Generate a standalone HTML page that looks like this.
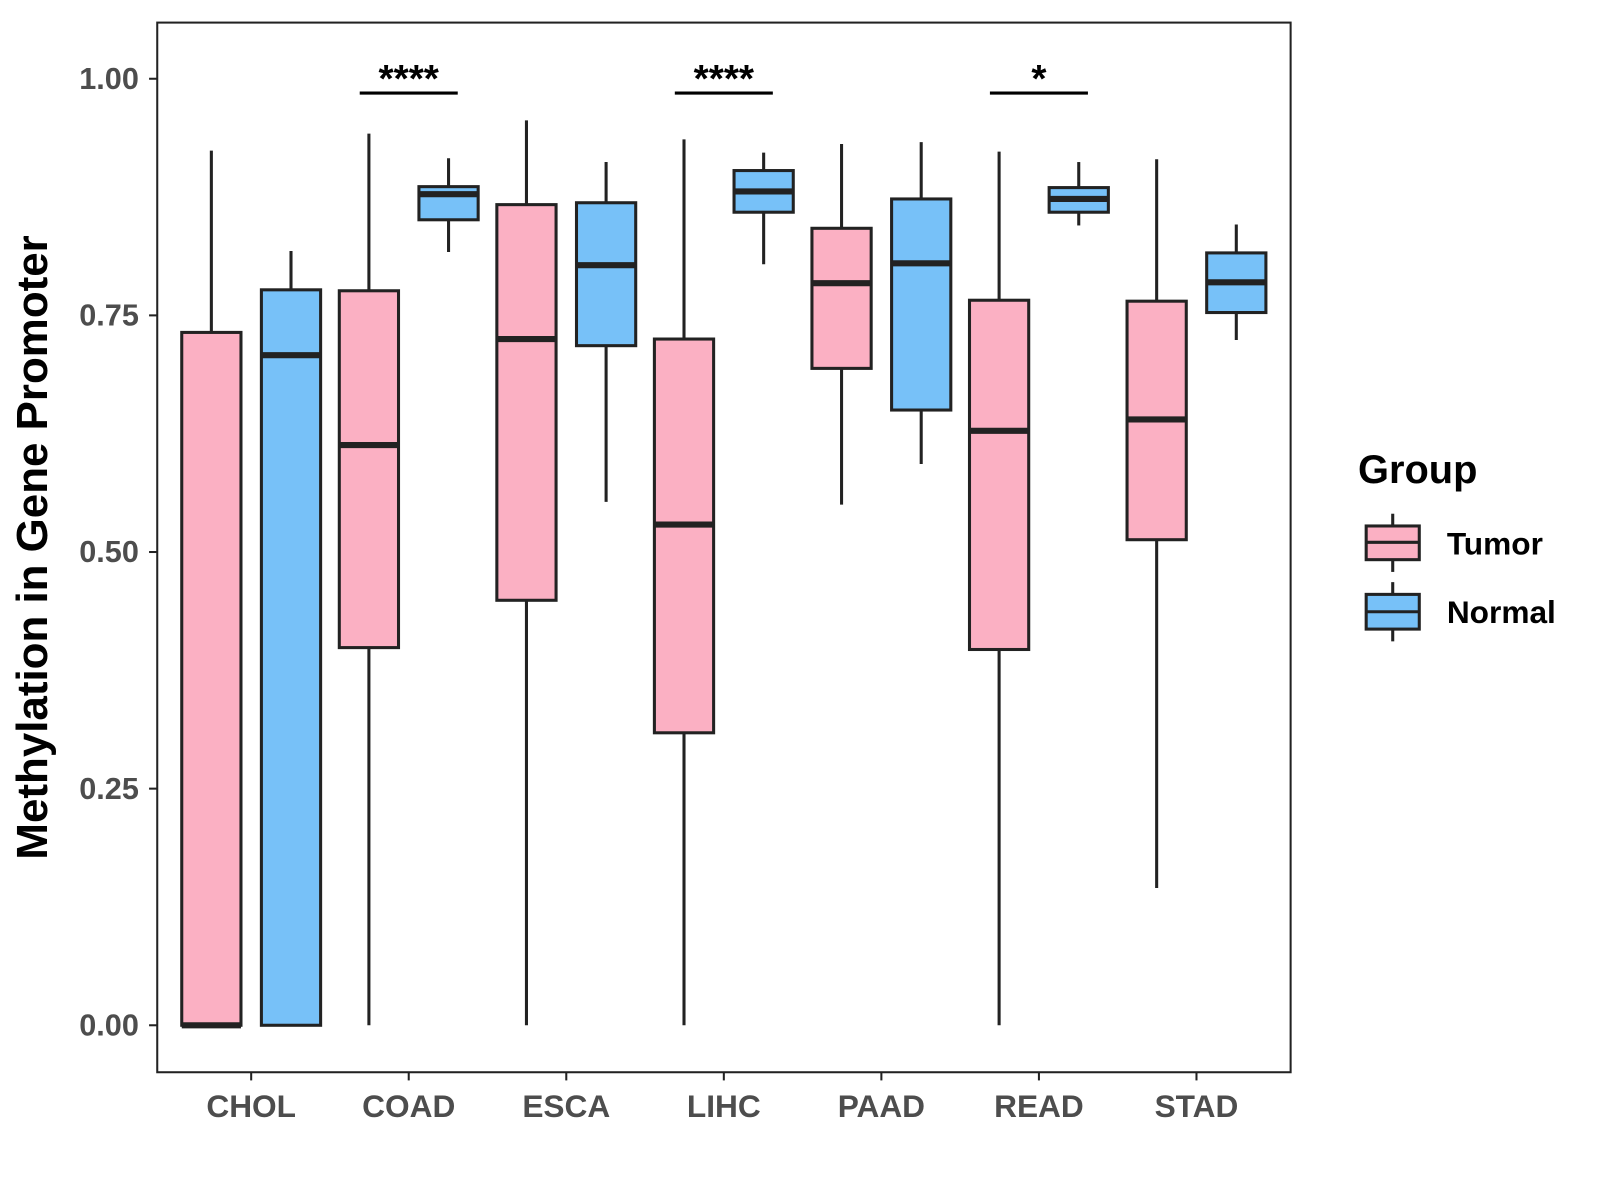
<!DOCTYPE html>
<html><head><meta charset="utf-8"><style>
html,body{margin:0;padding:0;background:#fff;}
svg{display:block;font-family:"Liberation Sans",Arial,sans-serif;}
</style></head><body>
<svg id="chart" width="1600" height="1200" viewBox="0 0 1567 1175">
<rect x="154" y="22" width="1110" height="1028" fill="#fff" stroke="#222" stroke-width="2"/>
<g id="marks"></g>
<text transform="translate(46,536) rotate(-90)" text-anchor="middle" font-size="43" font-weight="bold" fill="#000">Methylation in Gene Promoter</text>
<g>
<text x="1330" y="473" font-size="39" font-weight="bold">Group</text>
<g>
<line x1="1364" y1="503" x2="1364" y2="560" stroke="#222" stroke-width="3"/>
<rect x="1338" y="515" width="52" height="33" fill="#fbb0c3" stroke="#222" stroke-width="3"/>
<line x1="1338" y1="531" x2="1390" y2="531" stroke="#222" stroke-width="3"/>
<text x="1417" y="543" font-size="31" font-weight="bold">Tumor</text></g>
<g>
<line x1="1364" y1="570" x2="1364" y2="628" stroke="#222" stroke-width="3"/>
<rect x="1338" y="582" width="52" height="34" fill="#77c1f8" stroke="#222" stroke-width="3"/>
<line x1="1338" y1="599" x2="1390" y2="599" stroke="#222" stroke-width="3"/>
<text x="1417" y="610" font-size="31" font-weight="bold">Normal</text></g>
</g>
</svg>
<script>
const categories = ["CHOL","COAD","ESCA","LIHC","PAAD","READ","STAD"];
const tumorStats = [
 [0,0,0,0.732,0.924],
 [0,0.399,0.613,0.776,0.942],
 [0,0.449,0.725,0.867,0.956],
 [0,0.309,0.529,0.725,0.936],
 [0.550,0.694,0.784,0.842,0.931],
 [0,0.397,0.628,0.766,0.923],
 [0.145,0.513,0.640,0.765,0.915]];
const normalStats = [
 [0,0,0.708,0.777,0.818],
 [0.817,0.851,0.878,0.886,0.916],
 [0.553,0.718,0.803,0.869,0.912],
 [0.804,0.859,0.881,0.903,0.922],
 [0.593,0.650,0.805,0.873,0.933],
 [0.845,0.859,0.873,0.885,0.912],
 [0.724,0.753,0.785,0.816,0.846]];
const yTicks = [0,0.25,0.5,0.75,1.0];
const yTickLabels = ["0.00","0.25","0.50","0.75","1.00"];
const sigLabels = ["","****","","****","","*",""];
const NS="http://www.w3.org/2000/svg";
const g=document.getElementById('marks');
const svg=document.getElementById('chart');
function y(v){return 1004-v*927;}
function x(i){return 246+i*154.3;}
function mk(t,a,p){const e=document.createElementNS(NS,t);for(const k in a)e.setAttribute(k,a[k]);(p||g).appendChild(e);return e;}
yTicks.forEach((v,i)=>{
 const l=mk('line',{x1:146,x2:154,y1:y(v),y2:y(v),stroke:'#222','stroke-width':2},svg);
 
 
 const t=mk('text',{x:136,y:y(v)+10,'text-anchor':'end','font-size':30,'font-weight':'bold',fill:'#4d4d4d'},svg);
 t.textContent=yTickLabels[i];
 
 
});
categories.forEach((c,i)=>{
 const cx=x(i);
 const l=mk('line',{x1:cx,x2:cx,y1:1050,y2:1058,stroke:'#222','stroke-width':2},svg);
 
 
 const t=mk('text',{x:cx,y:1094,'text-anchor':'middle','font-size':31,'font-weight':'bold',fill:'#4d4d4d'},svg);
 t.textContent=c;
 
 
 [[tumorStats[i],'#fbb0c3',-39,'tumor'],[normalStats[i],'#77c1f8',39,'normal']].forEach(([s,col,off,nm])=>{
  const bx=cx+off, w=58;
  const grp=mk('g',{});
  
  
  mk('line',{x1:bx,x2:bx,y1:y(s[4]),y2:y(s[0]),stroke:'#222','stroke-width':3},grp);
  mk('rect',{x:bx-w/2,y:y(s[3]),width:w,height:Math.max(y(s[1])-y(s[3]),0.1),fill:col,stroke:'#222','stroke-width':3},grp);
  mk('line',{x1:bx-w/2,x2:bx+w/2,y1:y(s[2]),y2:y(s[2]),stroke:'#222','stroke-width':6},grp);
 });
 if(sigLabels[i]){
  const sl=mk('line',{x1:cx-48,x2:cx+48,y1:91,y2:91,stroke:'#000','stroke-width':3});
  
  
  const st=mk('text',{x:cx,y:90,'text-anchor':'middle','font-size':38,'font-weight':'bold',fill:'#000'});
  st.textContent=sigLabels[i];
  
  
 }
});
</script>
</body></html>
